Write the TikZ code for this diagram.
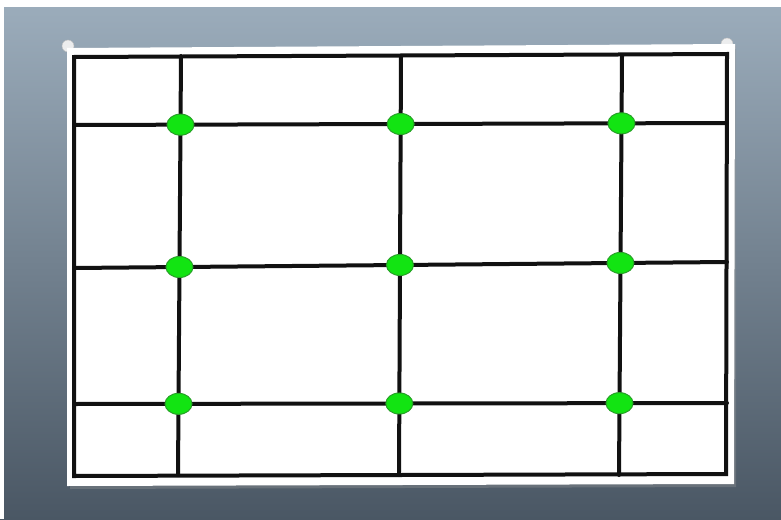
\documentclass[tikz,border=0pt]{standalone}
\usepackage{tikz}
\usetikzlibrary{calc, shapes.geometric}
\definecolor{cBgTop}   {HTML}{9CADBC}
\definecolor{cBgMid}   {HTML}{7A8D9E}
\definecolor{cBgBot}   {HTML}{4A5764}
\definecolor{cGrid}    {HTML}{111111}
\definecolor{cDot}     {HTML}{12E412}
\definecolor{cDotEdge} {HTML}{27A027}
\definecolor{cPin}     {HTML}{ECEDEE}

\begin{document}
\begin{tikzpicture}[
  x=1pt, y=-1pt,
  gridline/.style={draw=cGrid, line width=4pt, line cap=round},
  dot/.style={ellipse, fill=cDot, draw=cDotEdge, line width=1pt,
              minimum width=27pt, minimum height=21pt, inner sep=0pt},
  pin/.style={circle, fill=cPin, draw=gray!50, line width=0.4pt,
              minimum size=12pt, inner sep=0pt},
]

% ────────────── BACKGROUND ────────────────────────────────────────────────
\useasboundingbox (0,0) rectangle (781,519);
\shade[top color=cBgTop, middle color=cBgMid, bottom color=cBgBot] (0,0) rectangle (781,519);
\fill[white] (0,0) rectangle (781,7);
\fill[white] (0,0) rectangle (4,519);

% ────────────── PAPER + PINS ──────────────────────────────────────────────
\node[pin] (pinL) at (68,46) {};
\node[pin] (pinR) at (727,44) {};
\fill[black!40, opacity=0.35] (70,50) -- (736,46) -- (736,487) -- (70,489) -- cycle;
\fill[white] (67,48) -- (735,44) -- (734,484) -- (67,486) -- cycle;

% ────────────── GRID ──────────────────────────────────────────────────────
\coordinate (tl) at (74,57);
\coordinate (tr) at (727,54);
\coordinate (br) at (726,474);
\coordinate (bl) at (74,476);
\draw[gridline, line cap=butt] (tl) -- (tr) -- (br) -- (bl) -- cycle;

% horizontal lines
\foreach \i/\yl/\yr in {1/125/123, 2/268/262, 3/404/403} {
  \coordinate (hl\i) at (74,\yl);
  \coordinate (hr\i) at (727,\yr);
  \draw[gridline] (hl\i) -- (hr\i);
}
% vertical lines
\foreach \j/\xt/\xb in {1/181/178, 2/401/399, 3/622/619} {
  \coordinate (vt\j) at (\xt,56);
  \coordinate (vb\j) at (\xb,475);
  \draw[gridline] (vt\j) -- (vb\j);
}

% ────────────── DOTS ──────────────────────────────────────────────────────
\foreach \i in {1,2,3} {
  \foreach \j in {1,2,3} {
    \node[dot] (d\i\j) at (intersection cs: first line={(hl\i)--(hr\i)},
                                           second line={(vt\j)--(vb\j)}) {};
  }
}

\end{tikzpicture}
\end{document}
